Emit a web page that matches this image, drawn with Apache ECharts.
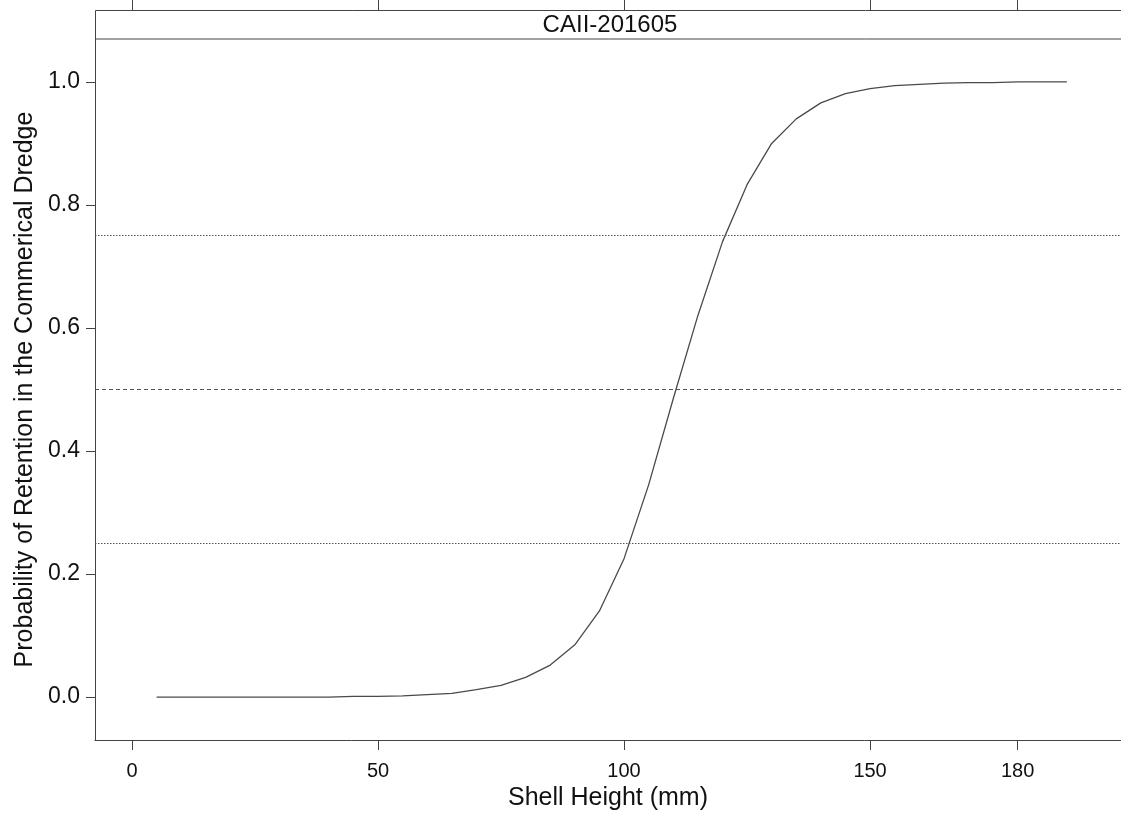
<!DOCTYPE html>
<html>
<head>
<meta charset="utf-8">
<script src="https://cdn.jsdelivr.net/npm/echarts@6/dist/echarts.min.js"></script>
<style>
html, body { margin: 0; padding: 0; background: #fff; }
#chart { width: 1121px; height: 816px; }
</style>
</head>
<body>
<div id="chart"></div>
<script>
const panelTitle = 'CAII-201605';
const xTitle = 'Shell Height (mm)';
const yTitle = 'Probability of Retention in the Commerical Dredge';

const shellHeight = [5, 10, 15, 20, 25, 30, 35, 40, 45, 50, 55, 60, 65, 70, 75, 80, 85, 90, 95,
  100, 105, 110, 115, 120, 125, 130, 135, 140, 145, 150, 155, 160, 165, 170, 175, 180, 185, 190];
const retentionProb = [0.000, 0.000, 0.000, 0.000, 0.000, 0.000, 0.000, 0.000, 0.001, 0.001,
  0.002, 0.004, 0.006, 0.012, 0.019, 0.032, 0.052, 0.085, 0.140,
  0.225, 0.345, 0.485, 0.620, 0.740, 0.833, 0.900, 0.940, 0.966, 0.981,
  0.989, 0.994, 0.996, 0.998, 0.999, 0.999, 1.000, 1.000, 1.000];

const xTicks = [0, 50, 100, 150, 180];
const yTicks = [0, 0.2, 0.4, 0.6, 0.8, 1.0];
const dottedLevels = [0.25, 0.75];
const dashedLevels = [0.5];

const FONT = '"Liberation Sans", Arial, sans-serif';
const AXIS_COLOR = '#444';

const chart = echarts.init(document.getElementById('chart'), null, { renderer: 'canvas' });

const option = {
  animation: false,
  backgroundColor: '#fff',
  grid: { left: 95, top: 39, right: 0, bottom: 75, show: false },
  xAxis: [{
    type: 'value', min: -7.52, max: 201.0,
    name: xTitle, nameLocation: 'middle', nameGap: 46,
    nameTextStyle: { fontFamily: FONT, fontSize: 25, color: '#111' },
    axisLine: { show: true, onZero: false, lineStyle: { color: AXIS_COLOR, width: 1 } },
    splitLine: { show: false },
    axisTick: { show: true, inside: false, length: 10, customValues: xTicks, lineStyle: { color: AXIS_COLOR } },
    axisLabel: { show: true, customValues: xTicks, margin: 21, fontFamily: FONT, fontSize: 20, color: '#111' }
  }, {
    type: 'value', min: -7.52, max: 201.0, position: 'top', offset: 29,
    axisLine: { show: false, onZero: false },
    splitLine: { show: false },
    axisTick: { show: true, inside: false, length: 10, customValues: xTicks, lineStyle: { color: AXIS_COLOR } },
    axisLabel: { show: false }
  }],
  yAxis: {
    type: 'value', min: -0.0698, max: 1.0698,
    name: yTitle, nameLocation: 'middle', nameGap: 54, nameRotate: 90,
    nameTextStyle: { fontFamily: FONT, fontSize: 25, color: '#111' },
    axisLine: { show: true, onZero: false, lineStyle: { color: AXIS_COLOR, width: 1 } },
    splitLine: { show: false },
    axisTick: { show: true, inside: false, length: 9, customValues: yTicks, lineStyle: { color: AXIS_COLOR } },
    axisLabel: {
      show: true, customValues: yTicks, margin: 15, fontFamily: FONT, fontSize: 23, color: '#111',
      formatter: v => v.toFixed(1)
    }
  },
  graphic: [{
    type: 'rect',
    shape: { x: 95.5, y: 10.5, width: 1040, height: 28.5 },
    style: { fill: '#fff', stroke: AXIS_COLOR, lineWidth: 1 },
    z: 10
  }, {
    type: 'text',
    x: 610, y: 25,
    style: { text: panelTitle, fontFamily: FONT, fontSize: 24, fill: '#111', align: 'center', verticalAlign: 'middle' },
    z: 11
  }],
  series: [{
    type: 'line',
    data: shellHeight.map((x, i) => [x, retentionProb[i]]),
    showSymbol: false,
    smooth: false,
    lineStyle: { color: '#4a4a4a', width: 1.3 },
    markLine: {
      silent: true,
      symbol: 'none',
      label: { show: false },
      data: [
        ...dottedLevels.map(v => ({ yAxis: v, lineStyle: { type: [1.5, 1.5], color: '#555', width: 1 } })),
        ...dashedLevels.map(v => ({ yAxis: v, lineStyle: { type: [4, 3], color: '#555', width: 1 } }))
      ]
    }
  }]
};

chart.setOption(option);
</script>
</body>
</html>
